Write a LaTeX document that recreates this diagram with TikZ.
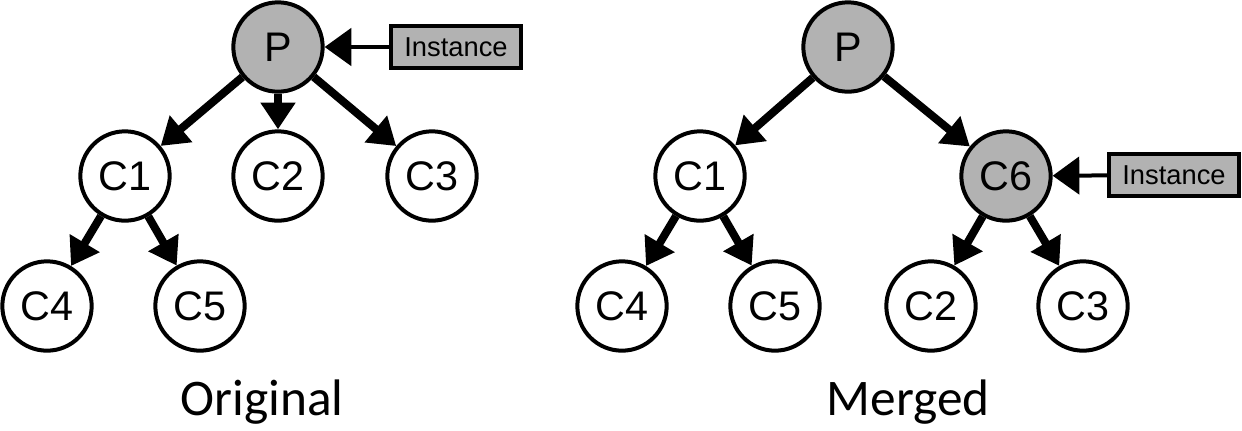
\documentclass[tikz,border=0pt]{standalone}
\usepackage{fontspec}
\setmainfont{Liberation Sans}
\newfontfamily\labelfont{Carlito}
\usetikzlibrary{arrows.meta}
\definecolor{nodegray}{RGB}{178,178,178}

\begin{document}
\begin{tikzpicture}[x=0.75pt, y=-0.75pt,
	vertex/.style={circle, draw, line width=3pt, minimum size=67pt, inner sep=0pt, font=\fontsize{31}{31}\selectfont},
	inst/.style={rectangle, draw, line width=3pt, fill=nodegray, minimum width=97pt, minimum height=32pt, inner sep=0pt, font=\fontsize{20.5}{20.5}\selectfont},
	edge/.style={line width=6pt, -{Triangle[length=20pt,width=25pt]}},
	instedge/.style={line width=3pt, -{Triangle[length=20pt,width=28pt]}},
	caption/.style={font=\labelfont\fontsize{38.5}{40}\selectfont}]
	\useasboundingbox (0,0) rectangle (1242,430);
	
	% original tree
	\node[vertex, fill=nodegray] (P) at (278,47) {P};
	\node[vertex] (C1) at (125,176) {C1};
	\node[vertex] (C2) at (278,176) {C2};
	\node[vertex] (C3) at (432,176) {C3};
	\node[vertex] (C4) at (47,306) {C4};
	\node[vertex] (C5) at (200,306) {C5};
	\node[inst] (I) at (456,47) {Instance};
	
	\draw[edge] (P) -- (C1);
	\draw[edge] (P) -- (C2);
	\draw[edge] (P) -- (C3);
	\draw[edge] (C1) -- (C4);
	\draw[edge] (C1) -- (C5);
	\draw[instedge] (I) -- (P);
	
	\node[caption] (orig) at (262,402) {Original};
	
	% merged tree
	\node[vertex, fill=nodegray] (mP) at (848,47) {P};
	\node[vertex] (mC1) at (700,176) {C1};
	\node[vertex, fill=nodegray] (mC6) at (1006,176) {C6};
	\node[vertex] (mC4) at (622,306) {C4};
	\node[vertex] (mC5) at (775,306) {C5};
	\node[vertex] (mC2) at (931,306) {C2};
	\node[vertex] (mC3) at (1083,306) {C3};
	\node[inst] (mI) at (1174,175) {Instance};
	
	\draw[edge] (mP) -- (mC1);
	\draw[edge] (mP) -- (mC6);
	\draw[edge] (mC1) -- (mC4);
	\draw[edge] (mC1) -- (mC5);
	\draw[edge] (mC6) -- (mC2);
	\draw[edge] (mC6) -- (mC3);
	\draw[instedge] (mI) -- (mC6);
	
	\node[caption] (merg) at (908,402) {Merged};
\end{tikzpicture}
\end{document}
